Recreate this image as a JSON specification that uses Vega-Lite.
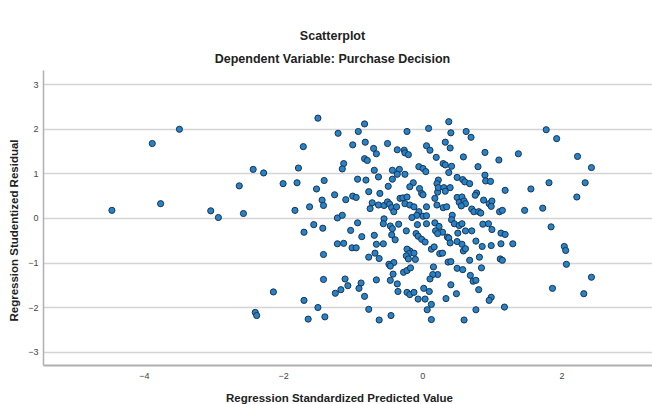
{
  "$schema": "https://vega.github.io/schema/vega-lite/v6.json",
  "width": 609,
  "height": 295,
  "autosize": "none",
  "padding": {"left": 43, "top": 70, "right": 0, "bottom": 39},
  "background": "white",
  "title": {
    "text": "Scatterplot",
    "subtitle": "Dependent Variable: Purchase Decision",
    "anchor": "middle",
    "dx": -15,
    "font": "Liberation Sans",
    "subtitleFont": "Liberation Sans",
    "fontSize": 12.5,
    "subtitleFontSize": 12.5,
    "fontWeight": "bold",
    "subtitleFontWeight": "bold",
    "color": "#222222",
    "subtitleColor": "#222222",
    "offset": 5,
    "subtitlePadding": 10
  },
  "config": {
    "view": {"stroke": null},
    "axis": {"labelFont": "Liberation Sans", "titleFont": "Liberation Sans"}
  },
  "data": {
    "values": [
      {"x": -4.46, "y": 0.17}, {"x": -3.88, "y": 1.67}, {"x": -3.49, "y": 1.99}, {"x": -3.76, "y": 0.32},
      {"x": -3.04, "y": 0.16}, {"x": -2.93, "y": 0.01}, {"x": -2.63, "y": 0.72}, {"x": -2.57, "y": 0.10},
      {"x": -2.43, "y": 1.09}, {"x": -2.28, "y": 1.01}, {"x": -2.00, "y": 0.77}, {"x": -1.80, "y": 0.79},
      {"x": -1.78, "y": 1.12}, {"x": -1.71, "y": 1.60}, {"x": -1.50, "y": 2.24}, {"x": -1.83, "y": 0.17},
      {"x": -1.62, "y": 0.25}, {"x": -1.52, "y": 0.65}, {"x": -1.41, "y": 0.84}, {"x": -1.44, "y": 0.40},
      {"x": -1.42, "y": 0.28}, {"x": -1.70, "y": -0.32}, {"x": -1.56, "y": -0.15}, {"x": -1.43, "y": -0.23},
      {"x": -1.42, "y": -0.82}, {"x": -1.42, "y": -1.38}, {"x": -2.14, "y": -1.66}, {"x": -1.70, "y": -1.85},
      {"x": -1.50, "y": -2.01}, {"x": -1.40, "y": -2.22}, {"x": -1.64, "y": -2.27}, {"x": -2.40, "y": -2.12},
      {"x": -2.38, "y": -2.19},
      {"x": -1.21, "y": 1.90}, {"x": -0.92, "y": 1.94}, {"x": -0.83, "y": 2.11}, {"x": -1.00, "y": 1.64},
      {"x": -0.82, "y": 1.70}, {"x": -0.70, "y": 1.56}, {"x": -0.66, "y": 1.44}, {"x": -0.50, "y": 1.67},
      {"x": -0.36, "y": 1.53}, {"x": -0.26, "y": 1.52}, {"x": -0.22, "y": 1.94}, {"x": -0.25, "y": 1.46},
      {"x": -0.20, "y": 1.42}, {"x": 0.06, "y": 1.62}, {"x": 0.11, "y": 1.52}, {"x": 0.09, "y": 2.01},
      {"x": 0.20, "y": 1.36}, {"x": 0.38, "y": 2.16}, {"x": 0.41, "y": 1.91}, {"x": 0.33, "y": 1.70},
      {"x": 0.40, "y": 1.57}, {"x": 0.63, "y": 1.94}, {"x": 0.70, "y": 1.81}, {"x": 0.59, "y": 1.37},
      {"x": 0.90, "y": 1.47}, {"x": 1.10, "y": 1.30}, {"x": 1.38, "y": 1.44}, {"x": 1.78, "y": 1.98},
      {"x": 1.93, "y": 1.78}, {"x": 2.23, "y": 1.38}, {"x": 2.43, "y": 1.13}, {"x": -0.83, "y": 1.33},
      {"x": -0.79, "y": 1.29}, {"x": -1.13, "y": 1.22}, {"x": -1.15, "y": 1.10},
      {"x": -0.69, "y": 1.07}, {"x": -0.63, "y": 0.92}, {"x": -0.93, "y": 0.87}, {"x": -0.81, "y": 0.85},
      {"x": -0.43, "y": 1.07}, {"x": -0.33, "y": 1.09}, {"x": -0.36, "y": 0.98}, {"x": -0.25, "y": 0.98},
      {"x": -0.43, "y": 0.87}, {"x": -0.49, "y": 0.71}, {"x": -0.13, "y": 0.79}, {"x": -0.18, "y": 0.70},
      {"x": -0.05, "y": 1.15}, {"x": 0.01, "y": 1.11}, {"x": 0.05, "y": 1.04}, {"x": 0.30, "y": 1.22},
      {"x": 0.33, "y": 1.19}, {"x": 0.42, "y": 1.16}, {"x": 0.38, "y": 1.02}, {"x": 0.23, "y": 0.85},
      {"x": 0.21, "y": 0.77}, {"x": 0.50, "y": 0.91}, {"x": 0.58, "y": 0.86}, {"x": 0.61, "y": 0.81},
      {"x": 0.80, "y": 1.15}, {"x": 0.90, "y": 0.96}, {"x": 0.91, "y": 0.83}, {"x": 0.98, "y": 0.82},
      {"x": 0.68, "y": 0.77},
      {"x": -1.26, "y": 0.52}, {"x": -1.10, "y": 0.41}, {"x": -1.00, "y": 0.49}, {"x": -0.95, "y": 0.46},
      {"x": -0.77, "y": 0.59}, {"x": -0.75, "y": 0.21}, {"x": -0.72, "y": 0.34}, {"x": -0.61, "y": 0.55},
      {"x": -0.63, "y": 0.29}, {"x": -0.55, "y": 0.28}, {"x": -0.50, "y": 0.36}, {"x": -0.47, "y": 0.31},
      {"x": -0.44, "y": 0.23}, {"x": -0.41, "y": 0.14}, {"x": -0.37, "y": 0.25}, {"x": -0.32, "y": 0.44},
      {"x": -0.28, "y": 0.45}, {"x": -0.22, "y": 0.47}, {"x": -0.25, "y": 0.32}, {"x": -0.18, "y": 0.29},
      {"x": -0.12, "y": 0.25}, {"x": -0.04, "y": 0.66}, {"x": -0.01, "y": 0.55}, {"x": 0.01, "y": 0.52},
      {"x": 0.06, "y": 0.25}, {"x": -0.05, "y": 0.14}, {"x": -0.08, "y": 0.06}, {"x": 0.01, "y": 0.04},
      {"x": 0.06, "y": 0.05}, {"x": 0.18, "y": 0.44}, {"x": 0.22, "y": 0.58}, {"x": 0.23, "y": 0.68},
      {"x": 0.31, "y": 0.68}, {"x": 0.33, "y": 0.60}, {"x": 0.40, "y": 0.68}, {"x": 0.21, "y": 0.29},
      {"x": 0.30, "y": 0.23}, {"x": 0.35, "y": 0.25}, {"x": 0.50, "y": 0.46}, {"x": 0.53, "y": 0.35},
      {"x": 0.57, "y": 0.47}, {"x": 0.60, "y": 0.38}, {"x": 0.62, "y": 0.32}, {"x": 0.56, "y": 0.27},
      {"x": 0.78, "y": 0.56}, {"x": 0.76, "y": 0.51}, {"x": 0.71, "y": 0.20}, {"x": 0.74, "y": 0.14},
      {"x": 0.81, "y": 0.14}, {"x": 0.84, "y": 0.11}, {"x": 0.88, "y": 0.40}, {"x": 0.96, "y": 0.32},
      {"x": 1.00, "y": 0.38}, {"x": 0.99, "y": 0.26}, {"x": 1.11, "y": 0.14}, {"x": 1.15, "y": 0.17},
      {"x": 1.19, "y": 0.62}, {"x": 1.47, "y": 0.17}, {"x": 1.56, "y": 0.65}, {"x": 1.73, "y": 0.22},
      {"x": 1.82, "y": 0.79}, {"x": 2.22, "y": 0.47}, {"x": 2.34, "y": 0.79},
      {"x": -1.22, "y": 0.00}, {"x": -1.15, "y": 0.06}, {"x": -0.93, "y": -0.11}, {"x": -1.03, "y": -0.28},
      {"x": -0.87, "y": -0.42}, {"x": -0.55, "y": -0.02}, {"x": -0.56, "y": -0.13}, {"x": -0.46, "y": -0.18},
      {"x": -0.43, "y": -0.24}, {"x": -0.34, "y": -0.14}, {"x": -0.23, "y": -0.29}, {"x": -0.15, "y": 0.01},
      {"x": -0.07, "y": -0.15}, {"x": 0.06, "y": -0.13}, {"x": 0.18, "y": -0.11}, {"x": 0.24, "y": -0.19},
      {"x": 0.29, "y": -0.32}, {"x": 0.19, "y": -0.29}, {"x": 0.22, "y": -0.35}, {"x": 0.36, "y": -0.43},
      {"x": 0.43, "y": 0.06}, {"x": 0.42, "y": -0.04}, {"x": 0.46, "y": -0.13}, {"x": 0.53, "y": -0.17},
      {"x": 0.57, "y": -0.13}, {"x": 0.51, "y": -0.34}, {"x": 0.62, "y": -0.29}, {"x": 0.71, "y": -0.29},
      {"x": 0.87, "y": -0.14}, {"x": 0.95, "y": -0.13}, {"x": 1.00, "y": -0.26}, {"x": 1.13, "y": -0.34},
      {"x": 1.19, "y": -0.37}, {"x": 1.30, "y": -0.58}, {"x": 1.85, "y": -0.20}, {"x": -0.69, "y": -0.39},
      {"x": -0.66, "y": -0.59}, {"x": -0.56, "y": -0.58}, {"x": -0.39, "y": -0.49}, {"x": -0.44, "y": -0.38},
      {"x": -0.09, "y": -0.35}, {"x": -0.06, "y": -0.41}, {"x": -0.01, "y": -0.48}, {"x": 0.04, "y": -0.54},
      {"x": -0.18, "y": -0.74}, {"x": -0.22, "y": -0.70}, {"x": 0.13, "y": -0.70}, {"x": 0.17, "y": -0.65},
      {"x": 0.38, "y": -0.45}, {"x": 0.40, "y": -0.56}, {"x": 0.50, "y": -0.53}, {"x": 0.57, "y": -0.59},
      {"x": 0.59, "y": -0.74}, {"x": 0.62, "y": -0.69}, {"x": 0.77, "y": -0.52}, {"x": 0.86, "y": -0.64},
      {"x": 0.99, "y": -0.62}, {"x": 1.13, "y": -0.58}, {"x": -1.22, "y": -0.58}, {"x": -1.13, "y": -0.57},
      {"x": -1.01, "y": -0.67}, {"x": -0.95, "y": -0.67},
      {"x": -0.77, "y": -0.88}, {"x": -0.68, "y": -0.79}, {"x": -0.62, "y": -0.91}, {"x": -0.48, "y": -1.04},
      {"x": -0.41, "y": -1.00}, {"x": -0.46, "y": -1.08}, {"x": -0.19, "y": -0.80}, {"x": -0.23, "y": -0.85},
      {"x": -0.12, "y": -0.79}, {"x": -0.10, "y": -0.93}, {"x": -0.20, "y": -0.92}, {"x": -0.27, "y": -1.22},
      {"x": -0.22, "y": -1.18}, {"x": -0.17, "y": -1.12}, {"x": -0.42, "y": -1.26}, {"x": -0.46, "y": -1.40},
      {"x": -0.36, "y": -1.48}, {"x": 0.16, "y": -1.10}, {"x": 0.22, "y": -1.27}, {"x": 0.15, "y": -1.27},
      {"x": 0.11, "y": -1.37}, {"x": 0.25, "y": -0.80}, {"x": 0.29, "y": -0.79}, {"x": 0.37, "y": -0.99},
      {"x": 0.41, "y": -0.98}, {"x": 0.50, "y": -1.13}, {"x": 0.58, "y": -1.16}, {"x": 0.68, "y": -0.95},
      {"x": 0.82, "y": -0.88}, {"x": 0.85, "y": -1.12}, {"x": 0.69, "y": -1.29}, {"x": 0.73, "y": -1.42},
      {"x": 0.77, "y": -1.40}, {"x": 0.81, "y": -1.61}, {"x": 0.41, "y": -1.50}, {"x": 0.49, "y": -1.70},
      {"x": 1.12, "y": -0.92}, {"x": 1.15, "y": -0.95}, {"x": 2.04, "y": -0.64}, {"x": 2.06, "y": -0.73},
      {"x": 2.07, "y": -1.04}, {"x": 2.43, "y": -1.33}, {"x": 1.87, "y": -1.58}, {"x": 2.32, "y": -1.70},
      {"x": -1.11, "y": -1.37}, {"x": -1.07, "y": -1.52}, {"x": -0.88, "y": -1.46}, {"x": -0.91, "y": -1.58},
      {"x": -0.66, "y": -1.39}, {"x": -1.17, "y": -1.61}, {"x": -1.25, "y": -1.69}, {"x": -0.83, "y": -1.76},
      {"x": -0.35, "y": -1.65}, {"x": -0.22, "y": -1.67}, {"x": -0.18, "y": -1.72}, {"x": -0.12, "y": -1.67},
      {"x": -0.06, "y": -1.82}, {"x": 0.02, "y": -1.58}, {"x": 0.04, "y": -1.82}, {"x": 0.10, "y": -1.65},
      {"x": 0.13, "y": -1.94}, {"x": 0.07, "y": -2.06}, {"x": 0.34, "y": -1.81}, {"x": 0.99, "y": -1.78},
      {"x": 0.96, "y": -1.85}, {"x": 1.18, "y": -2.00}, {"x": 0.77, "y": -2.06},
      {"x": -0.77, "y": -2.05}, {"x": -0.62, "y": -2.29}, {"x": -0.45, "y": -2.19}, {"x": 0.13, "y": -2.28},
      {"x": 0.60, "y": -2.29}
    ]
  },
  "mark": {
    "type": "point",
    "shape": "circle",
    "filled": true,
    "size": 38,
    "fill": "#2683c8",
    "stroke": "#1b3552",
    "strokeWidth": 1,
    "opacity": 1
  },
  "encoding": {
    "x": {
      "field": "x",
      "type": "quantitative",
      "scale": {"domain": [-5.45, 3.3], "nice": false, "zero": false},
      "axis": {
        "values": [-4, -2, 0, 2],
        "grid": false,
        "ticks": false,
        "domain": true,
        "domainColor": "#b0b0b0",
        "domainWidth": 2,
        "labelFontSize": 9,
        "labelColor": "#444444",
        "labelPadding": 6,
        "title": "Regression Standardized Predicted Value",
        "titleFontSize": 11.5,
        "titleFontWeight": "bold",
        "titleColor": "#222222",
        "titlePadding": 12,
        "titleX": 296
      }
    },
    "y": {
      "field": "y",
      "type": "quantitative",
      "scale": {"domain": [-3.3, 3.32], "nice": false, "zero": false},
      "axis": {
        "values": [-3, -2, -1, 0, 1, 2, 3],
        "grid": true,
        "gridColor": "#d4d4d4",
        "gridWidth": 1.5,
        "ticks": false,
        "domain": true,
        "domainColor": "#b0b0b0",
        "domainWidth": 1.5,
        "labelFontSize": 9,
        "labelColor": "#444444",
        "labelPadding": 5,
        "title": "Regression Studentized Residual",
        "titleFontSize": 11.5,
        "titleFontWeight": "bold",
        "titleColor": "#222222",
        "titlePadding": 8,
        "titleY": 160
      }
    }
  }
}
